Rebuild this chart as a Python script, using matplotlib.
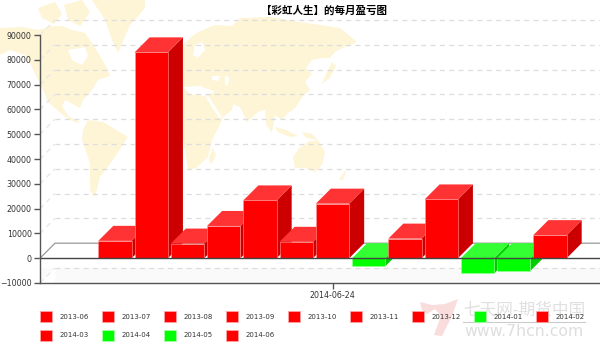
"""彩虹人生 每月盈亏图: fake-3D bars over a pale world map."""
import matplotlib
matplotlib.use("Agg")
import matplotlib.pyplot as plt
from matplotlib.patches import Patch, Polygon

W, H = 600, 353

months = ["2013-06", "2013-07", "2013-08", "2013-09", "2013-10", "2013-11", "2013-12",
          "2014-01", "2014-02", "2014-03", "2014-04", "2014-05", "2014-06"]
profit = [7000, 83000, 5900, 13000, 23300, 6600, 22000, -3200, 7900, 23700, -6100, -5100, 9300]
y_ticks = [-10000, 0, 10000, 20000, 30000, 40000, 50000, 60000, 70000, 80000, 90000]
date_label = "2014-06-24"
title = "【彩虹人生】的每月盈亏图"

# background map outlines, image pixels
MAP_LAND = [
    [(0, 28), (22, 27), (38, 30), (52, 26), (62, 26), (72, 30), (85, 33), (92, 43), (100, 56),
     (108, 70), (110, 76), (98, 80), (92, 90), (83, 100), (80, 108), (71, 103), (65, 100),
     (62, 106), (68, 116), (80, 122), (76, 123), (64, 116), (48, 102), (44, 92),
     (38, 80), (31, 65), (25, 55), (10, 50), (0, 55)],
    [(38, 8), (55, 2), (62, 14), (54, 24), (42, 18)],
    [(64, 5), (82, 0), (90, 12), (80, 26), (68, 20)],
    [(92, 0), (145, 0), (145, 8), (130, 25), (118, 53), (112, 40), (105, 20)],
    [(83, 130), (88, 120), (103, 122), (128, 137), (113, 160), (100, 177), (95, 197),
     (90, 190), (90, 163), (82, 140)],
    [(183, 45), (190, 38), (198, 32), (215, 25), (232, 26), (240, 18), (270, 17), (300, 22),
     (340, 28), (357, 42), (345, 47), (335, 52), (330, 58), (322, 58), (312, 60), (306, 68),
     (312, 74), (305, 82), (310, 90), (303, 96), (295, 108), (288, 113), (282, 120), (275, 115),
     (272, 133), (266, 124), (265, 110), (258, 112), (247, 122), (240, 107), (233, 104),
     (232, 110), (222, 118), (222, 120), (212, 140), (208, 157), (196, 168), (188, 170),
     (185, 150), (180, 125), (168, 110), (168, 60)],
    [(300, 147), (310, 141), (318, 140), (325, 152), (322, 165), (315, 172), (305, 168),
     (295, 168), (293, 157)],
    [(275, 127), (286, 130), (298, 136), (290, 137), (278, 132)],
    [(302, 132), (312, 134), (318, 140), (306, 138)],
    [(332, 62), (336, 66), (330, 78), (322, 84), (326, 74)],
    [(213, 148), (216, 155), (211, 165), (209, 158)],
    [(344, 172), (347, 170), (343, 180), (339, 180)],
]
MAP_SEA = [
    [(68, 50), (85, 47), (88, 56), (82, 65), (72, 60)],
    [(183, 87), (200, 86), (215, 92), (205, 96), (190, 94)],
    [(195, 45), (202, 42), (205, 50), (198, 58), (193, 55)],
    [(212, 76), (220, 76), (218, 81), (212, 80)],
    [(225, 76), (229, 77), (228, 86), (225, 84)],
    [(205, 96), (209, 97), (222, 117), (219, 118)],
]
LOGO_SEVEN = [(420, 302), (432, 305), (445, 304), (458, 299), (452, 316), (442, 336),
              (434, 335), (441, 316), (435, 309), (427, 314), (422, 310)]

BAR_STEP, BAR_X0 = 36.25, 115      # px between bars, px of first bar centre
AX_L, AX_R, AX_T, AX_B = 40, 600, 35, 283
DEPTH_PX = 15

plt.rcParams["font.family"] = ["DejaVu Sans"]
fig = plt.figure(figsize=(W / 100, H / 100), dpi=100)

bg = fig.add_axes([0, 0, 1, 1], zorder=0)
bg.set_xlim(0, W)
bg.set_ylim(H, 0)
bg.axis("off")
for pts in MAP_LAND:
    bg.add_patch(Polygon(pts, fc="#fdf5d6", ec="none"))
for pts in MAP_SEA:
    bg.add_patch(Polygon(pts, fc="white", ec="none"))

ax = fig.add_axes([AX_L / W, 1 - AX_B / H, (AX_R - AX_L) / W, (AX_B - AX_T) / H], zorder=1)
ax.patch.set_alpha(0)
ax.set_xlim((AX_L - BAR_X0) / BAR_STEP, (AX_R - BAR_X0) / BAR_STEP)
ax.set_ylim(-10000, 90000)
dx = DEPTH_PX / BAR_STEP
dy = DEPTH_PX * 100000 / (AX_B - AX_T)
x0, x1 = ax.get_xlim()

# floor below zero, back wall grid
ax.fill_between([x0 + dx, x1], -10000, -10000 + dy, color="#fafafa", lw=0, zorder=1)
ax.add_patch(Polygon([(x0, -10000), (x0 + dx, -10000 + dy), (x0, -10000 + dy)], fc="#fafafa", ec="none", zorder=1))
for v in y_ticks:
    if v == 0:
        ax.plot([x0, x0 + dx, x1], [0, dy, dy], color="#999999", lw=0.9, zorder=2, clip_on=False)
    else:
        ax.plot([x0 + dx, x1], [v + dy, v + dy], color="#dddddd", lw=0.9, ls=(0, (4, 3.5)), zorder=2, clip_on=False)
        ax.plot([x0, x0 + dx], [v, v + dy], color="#e6e6e6", lw=0.9, ls=(0, (4, 3.5)), zorder=2, clip_on=False)

bar_w = 0.92
for i, v in enumerate(profit):
    red = v >= 0
    front, top, side = ("#ff0000", "#ff3333", "#cc0000") if red else ("#00ff00", "#33ff33", "#00cc00")
    z = 3 + i * 0.01
    l, r = i - bar_w / 2, i + bar_w / 2
    hi = max(v, 0)
    lo = min(v, 0)
    ax.add_patch(Polygon([(r, lo), (r + dx, lo + dy), (r + dx, hi + dy), (r, hi)], fc=side, ec="none", zorder=z, clip_on=False))
    ax.add_patch(Polygon([(l, hi), (l + dx, hi + dy), (r + dx, hi + dy), (r, hi)], fc=top, ec="none", zorder=z, clip_on=False))
    ax.bar(i, v, width=bar_w, color=front, edgecolor="#ff9999" if red else "#99ff99", lw=0.4, zorder=z)

ax.axhline(0, color="#444444", lw=1, zorder=4)

for s in ["top", "right"]:
    ax.spines[s].set_visible(False)
for s in ["left", "bottom"]:
    ax.spines[s].set_color("#555555")
    ax.spines[s].set_linewidth(1)
    ax.spines[s].set_zorder(5)
ax.set_yticks(y_ticks)
ax.set_xticks([6])
ax.set_xticklabels([date_label])
ax.tick_params(axis="y", labelsize=5.7, length=4, width=1, color="#555555", labelcolor="#333333", pad=2)
ax.tick_params(axis="x", labelsize=5.7, length=4, width=1, color="#555555", labelcolor="#333333", pad=1.5)

# watermark
wm = fig.add_axes([0, 0, 1, 1], zorder=2)
wm.set_xlim(0, W)
wm.set_ylim(H, 0)
wm.axis("off")
wm.add_patch(Polygon(LOGO_SEVEN, fc="#f9dcdc", ec="none"))
wm.text(524, 309.5, "七天网-期货中国", ha="center", va="center", fontsize=12, color="#e0e0e0",
        family=["Noto Sans CJK SC", "DejaVu Sans"])
wm.plot([463, 585], [322, 322], color="#cccccc", lw=0.8)
wm.text(524, 331.5, "www.7hcn.com", ha="center", va="center", fontsize=11.3, color="#dedede")

fig.text(323.5 / W, 1 - 11 / H, title, ha="center", va="center", fontsize=7.6, fontweight="bold",
         color="black", family=["Noto Sans CJK SC", "DejaVu Sans"])

# legend fills row by row in the picture, columns in matplotlib
handles = [Patch(fc="#ff0000" if v >= 0 else "#00ff00", ec="#ffaaaa" if v >= 0 else "#aaffaa", lw=0.5, label=m)
           for m, v in zip(months, profit)]
order = [0, 9, 1, 10, 2, 11, 3, 12, 4, 5, 6, 7, 8]
fs_px = 5 * 100 / 72
leg = fig.legend([handles[i] for i in order], [months[i] for i in order], ncol=9, loc="upper left",
                 bbox_to_anchor=(40 / W, 1 - 311 / H), frameon=False, fontsize=5, labelcolor="#333333",
                 handlelength=12 / fs_px, handleheight=14 / fs_px, handletextpad=8 / fs_px,
                 columnspacing=12.6 / fs_px, labelspacing=8 / fs_px, borderpad=0, borderaxespad=0)
leg.set_zorder(3)

fig.savefig("out.png", dpi=100)
